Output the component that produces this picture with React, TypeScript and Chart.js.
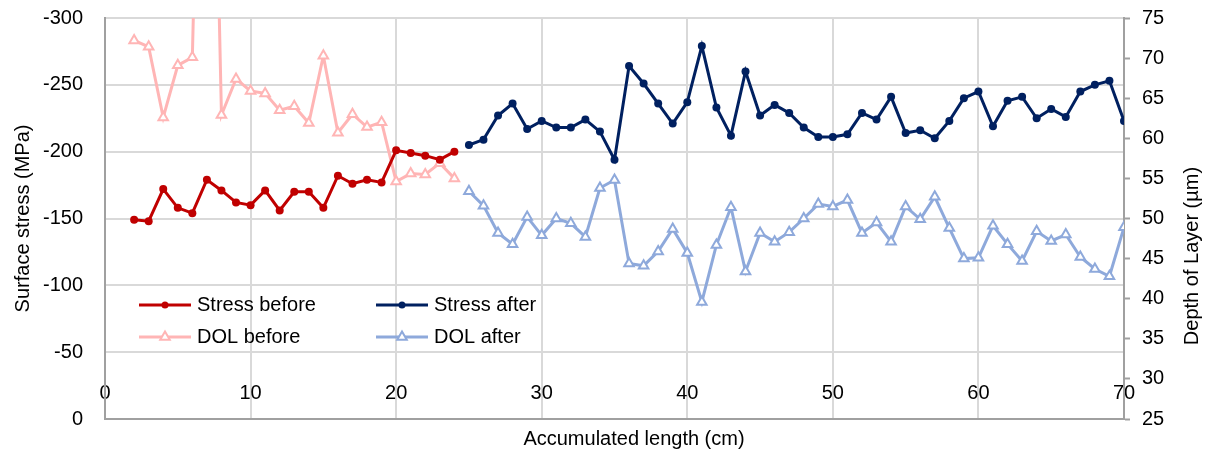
import React, { useEffect, useRef } from "react";
import { Chart, registerables } from "chart.js";

Chart.register(...registerables);

// ---- data ----
const xBefore = [2, 3, 4, 5, 6, 7, 8, 9, 10, 11, 12, 13, 14, 15, 16, 17, 18, 19, 20, 21, 22, 23, 24];
const stressBefore = [-149, -148, -172, -158, -154, -179, -171, -162, -160, -171, -156, -170, -170, -158, -182, -176, -179, -177, -201, -199, -197, -194, -200];
const dolBefore = [72.2, 71.4, 62.6, 69.1, 70.1, 145, 62.9, 67.4, 65.9, 65.6, 63.5, 64.0, 61.9, 70.3, 60.7, 63.0, 61.4, 62.0, 54.6, 55.6, 55.5, 56.9, 55.0];

const xAfter = [25, 26, 27, 28, 29, 30, 31, 32, 33, 34, 35, 36, 37, 38, 39, 40, 41, 42, 43, 44, 45, 46, 47, 48, 49, 50, 51, 52, 53, 54, 55, 56, 57, 58, 59, 60, 61, 62, 63, 64, 65, 66, 67, 68, 69, 70];
const stressAfter = [-205, -209, -227, -236, -217, -223, -218, -218, -224, -215, -194, -264, -251, -236, -221, -237, -279, -233, -212, -260, -227, -235, -229, -218, -211, -211, -213, -229, -224, -241, -214, -216, -210, -223, -240, -245, -219, -238, -241, -225, -232, -226, -245, -250, -253, -223];
const dolAfter = [53.4, 51.6, 48.2, 46.8, 50.2, 47.9, 50.0, 49.4, 47.7, 53.8, 54.8, 44.4, 44.1, 45.9, 48.7, 45.7, 39.6, 46.7, 51.4, 43.4, 48.2, 47.1, 48.3, 50.0, 51.8, 51.5, 52.3, 48.2, 49.5, 47.1, 51.5, 49.9, 52.7, 48.8, 45.0, 45.1, 49.1, 46.8, 44.7, 48.4, 47.2, 48.0, 45.2, 43.7, 42.8, 48.9];

const seriesNames = ["Stress before", "Stress after", "DOL before", "DOL after"];
const xTitle = "Accumulated length (cm)";
const yTitle = "Surface stress (MPa)";
const y1Title = "Depth of Layer (µm)";

// ---- styles ----
const FONT = "'Liberation Sans', Arial, sans-serif";
const FSIZE = 20;
const RED = "#C00000";
const NAVY = "#002060";
const PINK = "#FFB5B5";
const LBLUE = "#8EA9DB";
const GRID = "#D9D9D9";
const AXIS = "#A0A0A0";
const TEXT = "#000000";
const DOT_R = 4;
const TRI_R = 5.5;

function pts(xs: number[], ys: number[]) {
  return xs.map((x, i) => ({ x, y: ys[i] }));
}

export default function App() {
  const ref = useRef<HTMLCanvasElement | null>(null);

  useEffect(() => {
    const canvas = ref.current;
    if (!canvas) return;

    const overlay = {
      id: "overlay",
      afterDraw(chart: any) {
        const ctx = chart.ctx as CanvasRenderingContext2D;
        const area = chart.chartArea;
        ctx.save();
        ctx.font = `${FSIZE}px ${FONT}`;
        ctx.fillStyle = TEXT;
        ctx.textBaseline = "middle";

        // x-axis title
        ctx.textAlign = "center";
        ctx.fillText(xTitle, 634, 439);

        // right axis title (reads bottom-to-top)
        ctx.save();
        ctx.translate(1192, 256);
        ctx.rotate(-Math.PI / 2);
        ctx.fillText(y1Title, 0, 0);
        ctx.restore();

        // legend
        const ds = chart.data.datasets;
        const cols = [area.left + 34, area.left + 271];
        const rows = [305, 337];
        [0, 1, 2, 3].forEach((di, k) => {
          const d = ds[di];
          const lx = cols[k % 2];
          const ly = rows[Math.floor(k / 2)];
          ctx.strokeStyle = d.borderColor;
          ctx.lineWidth = 3;
          ctx.beginPath();
          ctx.moveTo(lx, ly);
          ctx.lineTo(lx + 52, ly);
          ctx.stroke();
          const cx = lx + 26;
          if (d.pointStyle === "triangle") {
            const r = TRI_R;
            const s = Math.sin((2 * Math.PI) / 3) * r;
            ctx.beginPath();
            ctx.moveTo(cx, ly - r);
            ctx.lineTo(cx + s, ly + r / 2);
            ctx.lineTo(cx - s, ly + r / 2);
            ctx.closePath();
            ctx.fillStyle = "#FFFFFF";
            ctx.fill();
            ctx.lineWidth = 2;
            ctx.stroke();
          } else {
            ctx.beginPath();
            ctx.arc(cx, ly, 3.5, 0, Math.PI * 2);
            ctx.fillStyle = d.borderColor;
            ctx.fill();
          }
          ctx.fillStyle = TEXT;
          ctx.textAlign = "left";
          ctx.fillText(d.label, lx + 58, ly);
        });
        ctx.restore();
      },
    };

    const font = { family: FONT, size: FSIZE, lineHeight: 1.2 };

    const chart = new Chart(canvas, {
      type: "line",
      data: {
        datasets: [
          {
            label: seriesNames[0],
            data: pts(xBefore, stressBefore),
            yAxisID: "y",
            borderColor: RED,
            backgroundColor: RED,
            borderWidth: 3,
            pointRadius: DOT_R,
            pointBorderWidth: 0,
            pointBackgroundColor: RED,
            pointStyle: "circle",
            tension: 0,
          },
          {
            label: seriesNames[1],
            data: pts(xAfter, stressAfter),
            yAxisID: "y",
            borderColor: NAVY,
            backgroundColor: NAVY,
            borderWidth: 3,
            pointRadius: DOT_R,
            pointBorderWidth: 0,
            pointBackgroundColor: NAVY,
            pointStyle: "circle",
            tension: 0,
          },
          {
            label: seriesNames[2],
            data: pts(xBefore, dolBefore),
            yAxisID: "y1",
            borderColor: PINK,
            backgroundColor: "#FFFFFF",
            borderWidth: 3,
            pointRadius: TRI_R,
            pointBorderWidth: 2,
            pointBackgroundColor: "#FFFFFF",
            pointBorderColor: PINK,
            pointStyle: "triangle",
            tension: 0,
          },
          {
            label: seriesNames[3],
            data: pts(xAfter, dolAfter),
            yAxisID: "y1",
            borderColor: LBLUE,
            backgroundColor: "#FFFFFF",
            borderWidth: 3,
            pointRadius: TRI_R,
            pointBorderWidth: 2,
            pointBackgroundColor: "#FFFFFF",
            pointBorderColor: LBLUE,
            pointStyle: "triangle",
            tension: 0,
          },
        ],
      },
      options: {
        responsive: false,
        animation: false,
        devicePixelRatio: 1,
        layout: { padding: { top: 18, left: 0, right: 0, bottom: 0 } },
        plugins: {
          legend: { display: false },
          tooltip: { enabled: false },
        },
        scales: {
          x: {
            type: "linear",
            min: 0,
            max: 70,
            ticks: { stepSize: 10, mirror: true, padding: 14, maxRotation: 0, autoSkip: false, font, color: TEXT },
            grid: { color: GRID, lineWidth: 2, drawTicks: false },
            border: { color: AXIS, width: 2 },
            afterFit: (s: any) => {
              s.height = 35;
            },
          },
          y: {
            type: "linear",
            position: "left",
            reverse: true,
            min: -300,
            max: 0,
            ticks: { stepSize: 50, padding: 22, font, color: TEXT },
            grid: { color: GRID, lineWidth: 2, drawTicks: false },
            border: { color: AXIS, width: 2 },
            title: { display: true, text: yTitle, font, color: TEXT, padding: { top: 11, bottom: 0 } },
            afterFit: (s: any) => {
              s.width = 105;
              s.paddingTop = 0;
              s.paddingBottom = 0;
            },
          },
          y1: {
            type: "linear",
            position: "right",
            min: 25,
            max: 75,
            ticks: { stepSize: 5, padding: 12, font, color: TEXT },
            grid: { drawOnChartArea: false, drawTicks: true, tickLength: 6, tickColor: AXIS, tickWidth: 2 },
            border: { color: AXIS, width: 2 },
            afterFit: (s: any) => {
              s.width = 84;
              s.paddingTop = 0;
              s.paddingBottom = 0;
            },
          },
        },
      },
      plugins: [overlay],
    } as any);

    return () => chart.destroy();
  }, []);

  return (
    <div style={{ position: "absolute", left: 0, top: 0, width: 1208, height: 454, background: "#fff" }}>
      <canvas ref={ref} width={1208} height={454} style={{ display: "block" }} />
    </div>
  );
}
